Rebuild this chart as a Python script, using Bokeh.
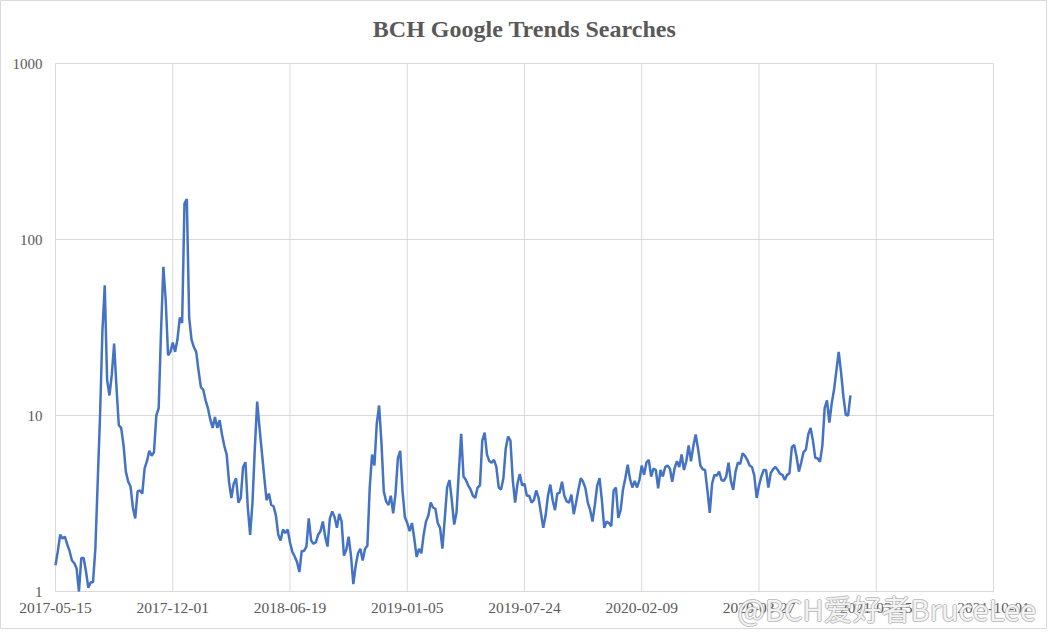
import math
import pandas as pd
from bokeh.plotting import figure
from bokeh.models import Range1d, LogScale, LinearScale
from bokeh.core.properties import value
from bokeh.embed import file_html
from bokeh.resources import INLINE

title_text = "BCH Google Trends Searches"
watermark_text = "@BCH爱好者BruceLee"

start_date = "2017-05-15"
step = "4D"
searches = [
    1.41, 1.7, 2.1, 2.0, 2.05, 1.85, 1.7, 1.5, 1.45, 1.35,
    1.0, 1.55, 1.55, 1.3, 1.05, 1.13, 1.13, 1.75, 4.2, 10,
    30, 55, 16, 13, 17, 25.6, 14.5, 8.8, 8.5, 6.8,
    4.8, 4.2, 3.95, 3.0, 2.6, 3.7, 3.75, 3.6, 5.0, 5.5,
    6.3, 5.9, 6.2, 10, 11, 30, 70, 45, 22, 23,
    26, 23, 27, 36, 33.5, 160, 170, 36, 27, 24.5,
    23, 18, 14.5, 14, 12.2, 11, 9.5, 8.5, 9.8, 8.5,
    9.4, 7.8, 6.7, 6.0, 4.2, 3.4, 4.1, 4.4, 3.2, 3.4,
    5.1, 5.43, 3.0, 2.1, 3.2, 6.5, 12, 8.5, 6.2, 4.5,
    3.3, 3.6, 3.1, 3.05, 2.7, 2.1, 1.95, 2.25, 2.15, 2.25,
    1.9, 1.68, 1.58, 1.47, 1.29, 1.7, 1.7, 1.8, 2.6, 1.95,
    1.87, 1.9, 2.1, 2.2, 2.5, 2.05, 1.8, 2.6, 2.85, 2.65,
    2.3, 2.76, 2.5, 1.6, 1.72, 2.05, 1.6, 1.1, 1.4, 1.65,
    1.75, 1.5, 1.75, 1.82, 3.9, 6.0, 5.2, 9.0, 11.4, 7.0,
    3.7, 3.25, 3.1, 3.5, 2.78, 3.6, 5.7, 6.3, 3.7, 2.64,
    2.45, 2.2, 2.45, 2.0, 1.57, 1.75, 1.65, 2.1, 2.5, 2.7,
    3.2, 3.0, 2.95, 2.45, 2.3, 1.75, 2.6, 3.9, 4.3, 3.3,
    2.4, 2.8, 4.8, 7.86, 4.5, 4.3, 4.0, 3.8, 3.5, 3.4,
    3.9, 4.0, 7.2, 8.0, 6.0, 5.5, 5.4, 5.6, 5.1, 3.9,
    3.8, 4.4, 6.5, 7.6, 7.2, 4.3, 3.2, 4.1, 4.65, 4.0,
    4.1, 3.5, 3.5, 3.2, 3.3, 3.75, 3.4, 2.8, 2.3, 2.7,
    3.5, 4.05, 3.3, 2.9, 3.6, 3.65, 4.2, 3.5, 3.25, 3.2,
    3.55, 2.75, 3.2, 3.8, 4.4, 4.2, 3.85, 3.2, 2.9, 2.5,
    3.1, 4.0, 4.4, 3.3, 2.3, 2.5, 2.45, 2.35, 3.75, 3.9,
    2.62, 2.9, 3.8, 4.4, 5.25, 4.35, 3.9, 4.25, 3.9, 4.3,
    5.2, 4.6, 5.4, 5.6, 4.5, 5.0, 4.9, 3.85, 4.9, 4.5,
    5.1, 5.2, 5.0, 4.2, 5.0, 5.5, 5.1, 6.0, 4.9, 5.5,
    6.75, 5.5, 6.7, 7.8, 6.5, 5.2, 4.95, 4.9, 3.75, 2.8,
    4.1, 4.6, 4.55, 4.8, 4.3, 4.25, 4.5, 5.4, 4.25, 3.78,
    4.8, 5.4, 5.3, 6.1, 5.9, 5.6, 5.2, 5.1, 4.55, 3.4,
    4.0, 4.5, 4.9, 4.9, 3.9, 4.7, 4.95, 5.1, 4.9, 4.66,
    4.6, 4.3, 4.6, 4.7, 6.6, 6.8, 5.85, 4.8, 5.4, 6.2,
    6.4, 7.8, 8.5, 7.2, 5.75, 5.7, 5.45, 6.7, 11, 12.2,
    9.1, 11.7, 14.0, 18, 23, 17.5, 12.8, 10.1, 10, 13,
]

x_tick_labels = ["2017-05-15", "2017-12-01", "2018-06-19", "2019-01-05", "2019-07-24",
                 "2020-02-09", "2020-08-27", "2021-03-15", "2021-10-01"]
y_ticks = [1, 10, 100, 1000]
y_tick_labels = ["1", "10", "100", "1000"]

# ---- layout (pixels of the canvas) ----
W, H = 1047, 629
PLOT_L, PLOT_R, PLOT_T, PLOT_B = 55, 993, 63, 591
grey = "#595959"
grid_col = "#d9d9d9"

dates = pd.date_range(start_date, periods=len(searches), freq=step)
tick_ms = [pd.Timestamp(t).timestamp() * 1000 for t in x_tick_labels]

ms_per_px = (tick_ms[-1] - tick_ms[0]) / (PLOT_R - PLOT_L)
x_start = tick_ms[0] - PLOT_L * ms_per_px
x_end = x_start + W * ms_per_px
lo, hi = math.log10(y_ticks[0]), math.log10(y_ticks[-1])
dec_per_px = (hi - lo) / (PLOT_B - PLOT_T)
log_top = hi + PLOT_T * dec_per_px
log_bottom = log_top - H * dec_per_px


def x_at(px):
    return x_start + px * ms_per_px


def y_at(py):
    return 10 ** (log_top - py * dec_per_px)


p = figure(width=W, height=H, x_axis_type=None, y_axis_type=None,
           x_range=Range1d(x_start, x_end), y_range=Range1d(10 ** log_bottom, 10 ** log_top),
           output_backend="svg", toolbar_location=None,
           min_border=0, min_border_left=0, min_border_right=0, min_border_top=0, min_border_bottom=0)
p.x_scale = LinearScale()
p.y_scale = LogScale()
p.background_fill_color = "white"
p.border_fill_color = "white"
p.outline_line_color = grid_col
p.outline_line_width = 1

# grid lines (horizontal at y ticks, vertical at date ticks)
p.segment(x0=[tick_ms[0]] * len(y_ticks), x1=[tick_ms[-1]] * len(y_ticks), y0=y_ticks, y1=y_ticks,
          line_color=grid_col, line_width=1)
p.segment(x0=tick_ms, x1=tick_ms, y0=[y_ticks[0]] * len(tick_ms), y1=[y_ticks[-1]] * len(tick_ms),
          line_color=grid_col, line_width=1)

# data line
p.line(dates, searches, line_color="#4472C4", line_width=2.5)

# tick labels
p.text(x=tick_ms, y=[y_at(607)] * len(tick_ms), text=x_tick_labels,
       text_font=value("Liberation Serif"), text_font_size="15.5px", text_color=grey,
       text_align="center", text_baseline="middle")
p.text(x=[x_at(42)] * len(y_ticks), y=y_ticks, text=y_tick_labels,
       text_font=value("Liberation Serif"), text_font_size="15px", text_color=grey,
       text_align="right", text_baseline="middle")

# title
p.text(x=[x_at((PLOT_L + PLOT_R) / 2)], y=[y_at(28)], text=[title_text],
       text_font=value("Liberation Serif"), text_font_style="bold", text_font_size="24px",
       text_color=grey, text_align="center", text_baseline="middle")

# watermark (white text with a grey edge)
wm_x, wm_y = x_at(737), y_at(607)
p.text(x=[wm_x] * 4, y=[wm_y] * 4, text=[watermark_text] * 4,
       x_offset=[-1, 1, 0, 0], y_offset=[0, 0, -1, 1],
       text_font=value("Noto Sans CJK SC"), text_font_size="29px", text_color="#9a9a9a",
       text_alpha=0.6, text_align="left", text_baseline="middle")
p.text(x=[wm_x], y=[wm_y], text=[watermark_text],
       text_font=value("Noto Sans CJK SC"), text_font_size="29px", text_color="white",
       text_alpha=0.9, text_align="left", text_baseline="middle")

open("out.html", "w").write(file_html(p, INLINE))
